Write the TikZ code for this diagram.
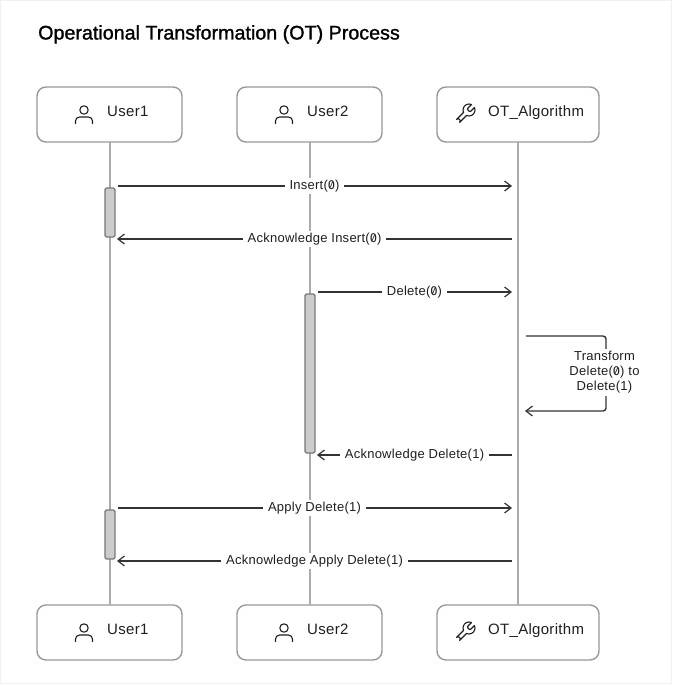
\documentclass[tikz,border=0pt]{standalone}
\usepackage{fontspec}
\setmainfont{Liberation Sans}
\newfontface\zf[RawFeature=+zero]{Fira Sans}
\usetikzlibrary{arrows.meta,svg.path}
\newcommand{\zr}{{\zf 0}}
\tikzset{
  x=1pt,y=-1pt,
  actor/.style={draw=boxc,line width=1.4pt,rounded corners=9pt,fill=white,inner sep=0pt},
  life/.style={draw=lifec,line width=1.6pt},
  activ/.style={draw=actc,fill=actf,line width=1.3pt,rounded corners=1.5pt,inner sep=0pt},
  msg/.style={draw=msgc,line width=1.4pt,-{Straight Barb[length=6.5pt,width=10pt,line width=1.2pt]}},
  lab/.style={fill=white,inner xsep=5pt,inner ysep=2pt,font=\fontsize{13}{15}\selectfont\addfontfeature{LetterSpace=2},text=txtc},
  anam/.style={font=\fontsize{15}{17}\selectfont\addfontfeature{LetterSpace=2},text=txtc,inner sep=0pt},
  icn/.style={draw=txtc,line width=1.1pt,line cap=round,line join=round},
}
\definecolor{boxc}{HTML}{999999}
\definecolor{lifec}{HTML}{ABABAB}
\definecolor{actc}{HTML}{777777}
\definecolor{actf}{HTML}{CCCCCC}
\definecolor{msgc}{HTML}{333333}
\definecolor{txtc}{HTML}{1F1F1F}
\definecolor{framec}{HTML}{F0F0F0}
\newcommand{\usericon}[2]{%
  \begin{scope}[shift={(#1,#2)}]
    \draw[icn] (0,0) circle[radius=4.2];
    \draw[icn] (-8.5,13.5) -- (-8.5,11) arc[start angle=180,end angle=270,radius=4] -- (4.5,7) arc[start angle=270,end angle=360,radius=4] -- (8.5,13.5);
  \end{scope}}
\newcommand{\wrenchicon}[2]{%
  \begin{scope}[shift={(#1,#2)},yscale=-1]
    \draw[icn] svg {M14.7 6.3a1 1 0 0 0 0 1.4l1.6 1.6a1 1 0 0 0 1.4 0l3.77-3.77a6 6 0 0 1-7.94 7.94l-6.91 6.91a2.12 2.12 0 0 1-3-3l6.91-6.91a6 6 0 0 1 7.94-7.94l-3.76 3.76z};
  \end{scope}}
\begin{document}
\begin{tikzpicture}
\useasboundingbox (0,0) rectangle (672,685);
\draw[framec,line width=1pt,fill=white] (0.5,0.5) rectangle (671.5,683.5);
\node[anchor=base west,inner sep=0pt,font=\fontsize{19.7}{21}\selectfont,text=black] (title) at (38,39.5) {\addfontfeature{FakeBold=1.2}Operational Transformation (OT) Process};

% actors
\node[actor,minimum width=145pt,minimum height=55pt] (u1t) at (109.5,114.5) {};
\node[actor,minimum width=145pt,minimum height=55pt] (u2t) at (309.5,114.5) {};
\node[actor,minimum width=162pt,minimum height=55pt] (ott) at (518,114.5) {};
\node[actor,minimum width=145pt,minimum height=55pt] (u1b) at (109.5,632.5) {};
\node[actor,minimum width=145pt,minimum height=55pt] (u2b) at (309.5,632.5) {};
\node[actor,minimum width=162pt,minimum height=55pt] (otb) at (518,632.5) {};

% lifelines
\draw[life] (110,142) coordinate (l1a) -- (110,605) coordinate (l1b);
\draw[life] (310,142) coordinate (l2a) -- (310,605) coordinate (l2b);
\draw[life] (518,142) coordinate (l3a) -- (518,605) coordinate (l3b);

% activations
\node[activ,minimum width=10pt,minimum height=49pt] (a1) at (110,212.5) {};
\node[activ,minimum width=10pt,minimum height=159pt] (a2) at (310,373.5) {};
\node[activ,minimum width=10pt,minimum height=49pt] (a3) at (110,534.5) {};

% message end points
\coordinate (m1s) at (118,186); \coordinate (m1e) at (512,186);
\coordinate (m2s) at (512,239); \coordinate (m2e) at (117,239);
\coordinate (m3s) at (318,292); \coordinate (m3e) at (512,292);
\coordinate (m4s) at (526,336); \coordinate (m4e) at (525,411);
\coordinate (m4a) at (606,336); \coordinate (m4b) at (606,411);
\coordinate (m5s) at (512,455); \coordinate (m5e) at (317,455);
\coordinate (m6s) at (118,508); \coordinate (m6e) at (512,508);
\coordinate (m7s) at (512,561); \coordinate (m7e) at (117,561);

\draw[msg] (m1s) -- (m1e);
\draw[msg] (m2s) -- (m2e);
\draw[msg] (m3s) -- (m3e);
\draw[msg,rounded corners=3pt] (m4s) -- (m4a) -- (m4b) -- (m4e);
\draw[msg] (m5s) -- (m5e);
\draw[msg] (m6s) -- (m6e);
\draw[msg] (m7s) -- (m7e);

\node[lab] (t1) at (314.5,185.7) {Insert(\zr)};
\node[lab] (t2) at (314.5,238.7) {Acknowledge Insert(\zr)};
\node[lab] (t3) at (414.5,291.7) {Delete(\zr)};
\node[lab,align=center,inner xsep=0pt] (t4) at (604.5,372.5) {Transform\\Delete(\zr) to\\Delete(1)};
\node[lab] (t5) at (414.5,454.7) {Acknowledge Delete(1)};
\node[lab] (t6) at (314.5,507.7) {Apply Delete(1)};
\node[lab] (t7) at (314.5,560.7) {Acknowledge Apply Delete(1)};

% actor labels and icons
\node[anam,anchor=base west] (n1) at (107,116) {User1};
\node[anam,anchor=base west] (n2) at (307,116) {User2};
\node[anam,anchor=base west] (n3) at (488,116) {OT\_Algorithm};
\node[anam,anchor=base west] (n4) at (107,634) {User1};
\node[anam,anchor=base west] (n5) at (307,634) {User2};
\node[anam,anchor=base west] (n6) at (488,634) {OT\_Algorithm};
\usericon{84}{110}
\usericon{284}{110}
\usericon{84}{628}
\usericon{284}{628}
\wrenchicon{453}{102}
\wrenchicon{453}{620}
\end{tikzpicture}
\end{document}
